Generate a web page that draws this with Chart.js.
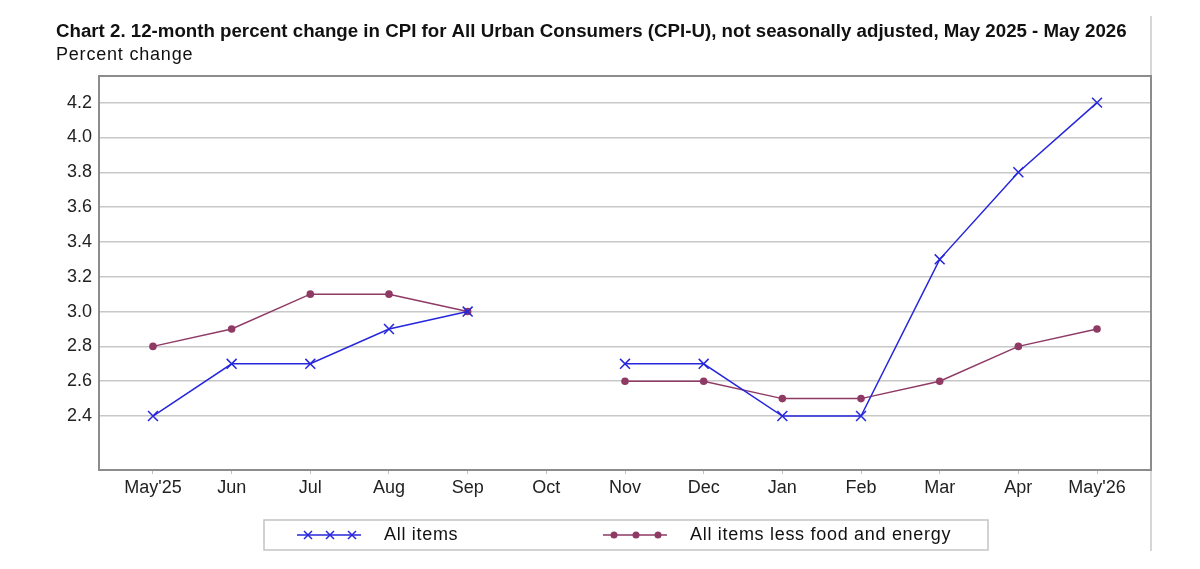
<!DOCTYPE html>
<html>
<head>
<meta charset="utf-8">
<script src="https://cdn.jsdelivr.net/npm/chart.js@4"></script>
<style>
html,body{margin:0;padding:0;background:#fff;}
canvas{display:block;}
</style>
</head>
<body>
<canvas id="c" width="1200" height="569"></canvas>
<script>
const titleText = "Chart 2. 12-month percent change in CPI for All Urban Consumers (CPI-U), not seasonally adjusted, May 2025 - May 2026";
const subtitleText = "Percent change";
const categories = ["May'25","Jun","Jul","Aug","Sep","Oct","Nov","Dec","Jan","Feb","Mar","Apr","May'26"];
const allItems = [2.4, 2.7, 2.7, 2.9, 3.0, null, 2.7, 2.7, 2.4, 2.4, 3.3, 3.8, 4.2];
const coreItems = [2.8, 2.9, 3.1, 3.1, 3.0, null, 2.6, 2.6, 2.5, 2.5, 2.6, 2.8, 2.9];
const yTicks = [2.4, 2.6, 2.8, 3.0, 3.2, 3.4, 3.6, 3.8, 4.0, 4.2];
const seriesNames = ["All items", "All items less food and energy"];

const BLUE = '#2626dc';
const MAROON = '#8e3a64';
const FONT = "'Liberation Sans', Arial, sans-serif";

const toPoints = arr => arr.map((v, i) => ({x: i, y: v}));

const decor = {
  id: 'decor',
  beforeDraw(chart) {
    const ctx = chart.ctx;
    ctx.save();
    ctx.fillStyle = '#fff';
    ctx.fillRect(0, 0, chart.width, chart.height);
    ctx.strokeStyle = '#c8c8c8';
    ctx.lineWidth = 1.5;
    ctx.beginPath(); ctx.moveTo(1151, 16); ctx.lineTo(1151, 551); ctx.stroke();
    ctx.restore();
  },
  afterDraw(chart) {
    const ctx = chart.ctx;
    const a = chart.chartArea;
    ctx.save();
    ctx.strokeStyle = '#8c8c8c';
    ctx.lineWidth = 2;
    ctx.strokeRect(a.left, a.top, a.right - a.left, a.bottom - a.top);
    // title
    ctx.fillStyle = '#111';
    ctx.textBaseline = 'alphabetic';
    ctx.textAlign = 'left';
    let size = 19;
    ctx.font = 'bold ' + size + 'px ' + FONT;
    while (ctx.measureText(titleText).width > 1071 && size > 10) {
      size -= 0.1;
      ctx.font = 'bold ' + size.toFixed(2) + 'px ' + FONT;
    }
    ctx.fillText(titleText, 56, 37);
    ctx.font = '18px ' + FONT;
    ctx.letterSpacing = '0.8px';
    ctx.fillText(subtitleText, 56, 60);
    // legend box
    ctx.letterSpacing = '0px';
    ctx.strokeStyle = '#c4c4c4';
    ctx.lineWidth = 1.5;
    ctx.strokeRect(264, 520, 724, 30);
    const ly = 535;
    ctx.strokeStyle = BLUE; ctx.lineWidth = 1.5;
    ctx.beginPath(); ctx.moveTo(297, ly); ctx.lineTo(361, ly); ctx.stroke();
    [308, 330, 352].forEach(x => {
      ctx.beginPath();
      ctx.moveTo(x - 4, ly - 4); ctx.lineTo(x + 4, ly + 4);
      ctx.moveTo(x - 4, ly + 4); ctx.lineTo(x + 4, ly - 4);
      ctx.stroke();
    });
    ctx.strokeStyle = MAROON; ctx.fillStyle = MAROON;
    ctx.beginPath(); ctx.moveTo(603, ly); ctx.lineTo(667, ly); ctx.stroke();
    [614, 636, 658].forEach(x => {
      ctx.beginPath(); ctx.arc(x, ly, 3.5, 0, Math.PI * 2); ctx.fill();
    });
    ctx.fillStyle = '#111';
    ctx.font = '18px ' + FONT;
    ctx.letterSpacing = '0.7px';
    ctx.textBaseline = 'middle';
    ctx.fillText(seriesNames[0], 384, ly);
    ctx.fillText(seriesNames[1], 690, ly);
    ctx.letterSpacing = '0px';
    ctx.restore();
  }
};

new Chart(document.getElementById('c'), {
  type: 'line',
  data: {
    datasets: [
      {
        label: seriesNames[0],
        data: toPoints(allItems),
        borderColor: BLUE,
        backgroundColor: BLUE,
        borderWidth: 1.5,
        pointStyle: 'crossRot',
        pointRadius: 7,
        pointBorderWidth: 1.5,
        pointHoverRadius: 7,
        spanGaps: false,
        tension: 0
      },
      {
        label: seriesNames[1],
        data: toPoints(coreItems),
        borderColor: MAROON,
        backgroundColor: MAROON,
        borderWidth: 1.5,
        pointStyle: 'circle',
        pointRadius: 3.8,
        pointBorderWidth: 0,
        pointHoverRadius: 3.8,
        spanGaps: false,
        tension: 0
      }
    ]
  },
  options: {
    responsive: false,
    animation: false,
    devicePixelRatio: 1,
    layout: { padding: { top: 76, right: 49, bottom: 69, left: 0 } },
    plugins: {
      legend: { display: false },
      title: { display: false },
      tooltip: { enabled: false }
    },
    scales: {
      x: {
        type: 'linear',
        min: -0.686,
        max: 12.686,
        afterBuildTicks(scale) { scale.ticks = categories.map((c, i) => ({value: i})); },
        afterFit(scale) { scale.height = 30; },
        grid: { drawOnChartArea: false, drawTicks: true, tickLength: 4, color: '#c0c0c0' },
        border: { display: false },
        ticks: {
          autoSkip: false,
          maxRotation: 0,
          padding: 3,
          color: '#222',
          font: { family: FONT, size: 18 },
          callback: (v) => categories[v] !== undefined ? categories[v] : ''
        }
      },
      y: {
        type: 'linear',
        min: 2.09,
        max: 4.353,
        afterBuildTicks(scale) { scale.ticks = yTicks.map(v => ({value: v})); },
        afterFit(scale) { scale.width = 99; },
        grid: { drawOnChartArea: true, drawTicks: false, color: '#c8c8c8', lineWidth: 1.5 },
        border: { display: false },
        ticks: {
          padding: 7,
          color: '#222',
          font: { family: FONT, size: 18 },
          callback: (v) => v.toFixed(1)
        }
      }
    }
  },
  plugins: [decor]
});
</script>
</body>
</html>
